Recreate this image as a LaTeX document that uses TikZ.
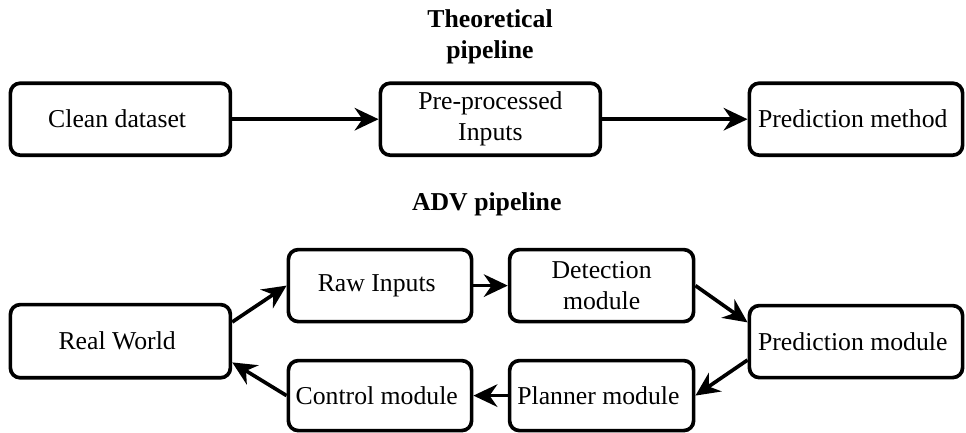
\documentclass[tikz,border=0pt]{standalone}
\usepackage{fontspec}
\setmainfont{Liberation Serif}
\usepackage{tikz}
\usetikzlibrary{arrows.meta}

\tikzset{
  block/.style={align=center,draw,line width=2.6pt,rounded corners=7pt,minimum height=1.8cm,
    font=\fontsize{18.3pt}{22pt}\selectfont},
  flow/.style={-{Stealth[length=17pt,width=16pt]},line width=2.6pt},
  heading/.style={align=center,font=\fontsize{18.3pt}{22pt}\selectfont\bfseries}
}

\begin{document}
\begin{tikzpicture}
  \useasboundingbox (0,0) rectangle (24.15,-10.825);

  % theoretical pipeline
  \node at (12.25,-0.93) [heading] (theory) {
    Theoretical\\pipeline
  };

  \node at (3.01,-2.98) [block,minimum width=5.5cm] (clean) {
    Clean dataset
  };

  \node at (12.26,-2.98) [block,minimum width=5.5cm] (prep) {
    Pre-processed\\Inputs
  };

  \node at (21.4,-2.98) [block,minimum width=5.33cm] (method) {
    Prediction method
  };

  \draw[flow] (clean) -- (prep);
  \draw[flow] (prep) -- (method);

  % ADV pipeline
  \node at (12.25,-5.25) [heading,anchor=base] (adv) {
    ADV pipeline
  };

  \node at (3.01,-8.53) [block,minimum width=5.5cm,minimum height=1.83cm] (world) {
    Real World
  };

  \node at (9.5,-7.14) [block,minimum width=4.58cm] (raw) {
    Raw Inputs
  };

  \node at (15.04,-7.14) [block,minimum width=4.6cm] (detect) {
    Detection\\module
  };

  \node at (21.4,-8.54) [block,minimum width=5.33cm] (predict) {
    Prediction module
  };

  \node at (15.04,-9.89) [block,minimum width=4.6cm,minimum height=1.75cm] (planner) {
    Planner module
  };

  \node at (9.5,-9.89) [block,minimum width=4.58cm,minimum height=1.75cm] (control) {
    Control module
  };

  \draw[flow] ([yshift=0.48cm]world.east) -- (raw.west);
  \draw[flow] (raw) -- (detect);
  \draw[flow] (detect.east) -- ([yshift=0.48cm]predict.west);
  \draw[flow] ([yshift=-0.46cm]predict.west) -- (planner.east);
  \draw[flow] (planner) -- (control);
  \draw[flow] (control.west) -- ([yshift=-0.53cm]world.east);
\end{tikzpicture}
\end{document}
